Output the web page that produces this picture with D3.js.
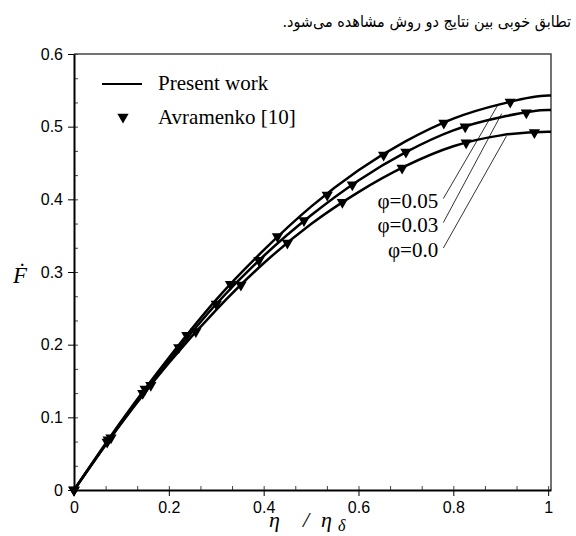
<!DOCTYPE html>
<html>
<head>
<meta charset="utf-8">
<script src="https://cdn.jsdelivr.net/npm/d3@7"></script>
<style>
  body { margin: 0; background: #fff; }
  svg { display: block; }
</style>
</head>
<body>
<div id="chart"></div>
<script>
// curves at eta = 0, 0.1, ... 1
const etaGrid = [0, 0.1, 0.2, 0.3, 0.4, 0.5, 0.6, 0.7, 0.8, 0.9, 1.0];
const curvePhi005 = [0, 0.095, 0.182, 0.262, 0.330, 0.390, 0.440, 0.480, 0.511, 0.531, 0.543];
const curvePhi003 = [0, 0.093, 0.178, 0.256, 0.322, 0.378, 0.426, 0.465, 0.495, 0.513, 0.523];
const curvePhi000 = [0, 0.092, 0.175, 0.248, 0.312, 0.366, 0.410, 0.446, 0.473, 0.488, 0.493];

// Avramenko [10] markers
const avEta005 = [0, 0.072, 0.15, 0.238, 0.33, 0.429, 0.534, 0.653, 0.78, 0.92];
const avVal005 = [0, 0.069, 0.139, 0.213, 0.283, 0.349, 0.406, 0.461, 0.505, 0.534];
const avEta003 = [0, 0.07, 0.145, 0.221, 0.30, 0.39, 0.485, 0.587, 0.70, 0.825, 0.954];
const avVal003 = [0, 0.066, 0.133, 0.196, 0.256, 0.316, 0.371, 0.420, 0.465, 0.500, 0.519];
const avEta000 = [0, 0.078, 0.162, 0.257, 0.352, 0.45, 0.566, 0.692, 0.827, 0.971];
const avVal000 = [0, 0.072, 0.144, 0.218, 0.282, 0.340, 0.396, 0.443, 0.478, 0.492];

const xTicks = [0, 0.2, 0.4, 0.6, 0.8, 1];
const xTickLabels = ['0', '0.2', '0.4', '0.6', '0.8', '1'];
const yTicks = [0, 0.1, 0.2, 0.3, 0.4, 0.5, 0.6];
const yTickLabels = ['0', '0.1', '0.2', '0.3', '0.4', '0.5', '0.6'];

const phiLabels = ['\u03C6=0.05', '\u03C6=0.03', '\u03C6=0.0'];
// leader lines: [eta, F'] label end -> point on curve
const leaderStart = [[0.779, 0.401], [0.779, 0.368], [0.779, 0.333]];
const leaderEnd = [[0.894, 0.530], [0.902, 0.518], [0.912, 0.487]];
const labelPos = [[0.768, 0.388], [0.768, 0.355], [0.768, 0.320]];

const caption = 'تطابق خوبی بین نتایج دو روش مشاهده می‌شود.';

const W = 576, H = 536;
const margin = { top: 54, right: 25, bottom: 46, left: 74 };
const width = W - margin.left - margin.right;
const height = H - margin.top - margin.bottom;

const root = d3.select('#chart').append('svg')
    .attr('width', W)
    .attr('height', H);

// caption line above the figure
root.append('text')
    .attr('x', 571)
    .attr('y', 27)
    .attr('direction', 'rtl')
    .attr('text-anchor', 'start')
    .attr('font-family', 'DejaVu Sans Condensed, DejaVu Sans, sans-serif')
    .attr('font-size', '16px')
    .attr('fill', '#000')
    .text(caption);

const svg = root.append('g')
    .attr('transform', `translate(${margin.left},${margin.top})`);

const x = d3.scaleLinear().domain([0, 1.006]).range([0, width]);
const y = d3.scaleLinear().domain([0, 0.6]).range([height, 0]);

// minor ticks (inside)
svg.append('g')
    .attr('transform', `translate(0,${height})`)
    .call(d3.axisBottom(x).tickValues(d3.range(0, 1.001, 0.2 / 3)).tickSize(-4).tickFormat(''))
    .call(g => g.select('.domain').remove())
    .selectAll('line').attr('stroke', '#444');
svg.append('g')
    .call(d3.axisLeft(y).tickValues(d3.range(0, 0.601, 0.1 / 3)).tickSize(-4).tickFormat(''))
    .call(g => g.select('.domain').remove())
    .selectAll('line').attr('stroke', '#444');

// frame top and right
svg.append('path')
    .attr('d', `M0,0H${width}V${height}`)
    .attr('fill', 'none')
    .attr('stroke', '#444')
    .attr('stroke-width', 1.5);

// x axis
const xAxis = svg.append('g')
    .attr('transform', `translate(0,${height})`)
    .call(d3.axisBottom(x)
        .tickValues(xTicks)
        .tickFormat((d, i) => xTickLabels[i])
        .tickSize(6)
        .tickSizeOuter(0)
        .tickPadding(6));
xAxis.select('.domain').attr('stroke', '#000').attr('stroke-width', 2);
xAxis.selectAll('line').attr('stroke', '#000');
xAxis.selectAll('text')
    .attr('font-family', 'Liberation Sans, Arial, sans-serif')
    .attr('font-size', '16px')
    .attr('fill', '#000');

// y axis
const yAxis = svg.append('g')
    .call(d3.axisLeft(y)
        .tickValues(yTicks)
        .tickFormat((d, i) => yTickLabels[i])
        .tickSize(6)
        .tickSizeOuter(0)
        .tickPadding(5));
yAxis.select('.domain').attr('stroke', '#000').attr('stroke-width', 2);
yAxis.selectAll('line').attr('stroke', '#000');
yAxis.selectAll('text')
    .attr('font-family', 'Liberation Sans, Arial, sans-serif')
    .attr('font-size', '16px')
    .attr('fill', '#000');

// present work curves
const line = d3.line()
    .x(d => x(d[0]))
    .y(d => y(d[1]))
    .curve(d3.curveMonotoneX);

[curvePhi005, curvePhi003, curvePhi000].forEach(vals => {
    const pts = etaGrid.map((e, i) => [e, vals[i]]);
    pts.push([1.006, vals[vals.length - 1]]);
    svg.append('path')
        .datum(pts)
        .attr('fill', 'none')
        .attr('stroke', '#000')
        .attr('stroke-width', 2.5)
        .attr('d', line);
});

// Avramenko markers
const tri = d3.symbol().type(d3.symbolTriangle).size(55);
[[avEta005, avVal005], [avEta003, avVal003], [avEta000, avVal000]].forEach(([es, vs]) => {
    svg.append('g').selectAll('path')
        .data(es.map((e, i) => [e, vs[i]]))
        .join('path')
        .attr('d', tri)
        .attr('fill', '#000')
        .attr('transform', d => `translate(${x(d[0])},${y(d[1])}) rotate(180)`);
});

// leader lines and phi labels
leaderStart.forEach((s, i) => {
    svg.append('line')
        .attr('x1', x(s[0])).attr('y1', y(s[1]))
        .attr('x2', x(leaderEnd[i][0])).attr('y2', y(leaderEnd[i][1]))
        .attr('stroke', '#000')
        .attr('stroke-width', 0.8);
    svg.append('text')
        .attr('x', x(labelPos[i][0]))
        .attr('y', y(labelPos[i][1]))
        .attr('text-anchor', 'end')
        .attr('font-family', 'Liberation Serif, Times New Roman, serif')
        .attr('font-size', '21px')
        .attr('fill', '#000')
        .text(phiLabels[i]);
});

// legend
const legend = root.append('g')
    .attr('font-family', 'Liberation Serif, Times New Roman, serif')
    .attr('font-size', '21px');
legend.append('line')
    .attr('x1', 102).attr('x2', 142)
    .attr('y1', 84).attr('y2', 84)
    .attr('stroke', '#000')
    .attr('stroke-width', 2);
legend.append('text').attr('x', 158).attr('y', 90).text('Present work');
legend.append('path')
    .attr('d', tri)
    .attr('transform', 'translate(123,117) rotate(180)');
legend.append('text').attr('x', 158).attr('y', 124).text('Avramenko [10]');

// axis titles
root.append('text')
    .attr('x', 20)
    .attr('y', 283)
    .attr('text-anchor', 'middle')
    .attr('font-family', 'Liberation Serif, DejaVu Serif, serif')
    .attr('font-style', 'italic')
    .attr('font-size', '23px')
    .text('\u1E1E');

const xt = root.append('text')
    .attr('y', 527)
    .attr('font-family', 'Liberation Serif, Times New Roman, serif')
    .attr('font-style', 'italic')
    .attr('font-size', '22px');
xt.append('tspan').attr('x', 269).text('\u03B7');
xt.append('tspan').attr('x', 303).text('/');
xt.append('tspan').attr('x', 321).text('\u03B7');
xt.append('tspan').attr('x', 338).attr('dy', 4).attr('font-size', '16px').text('\u03B4');
</script>
</body>
</html>
